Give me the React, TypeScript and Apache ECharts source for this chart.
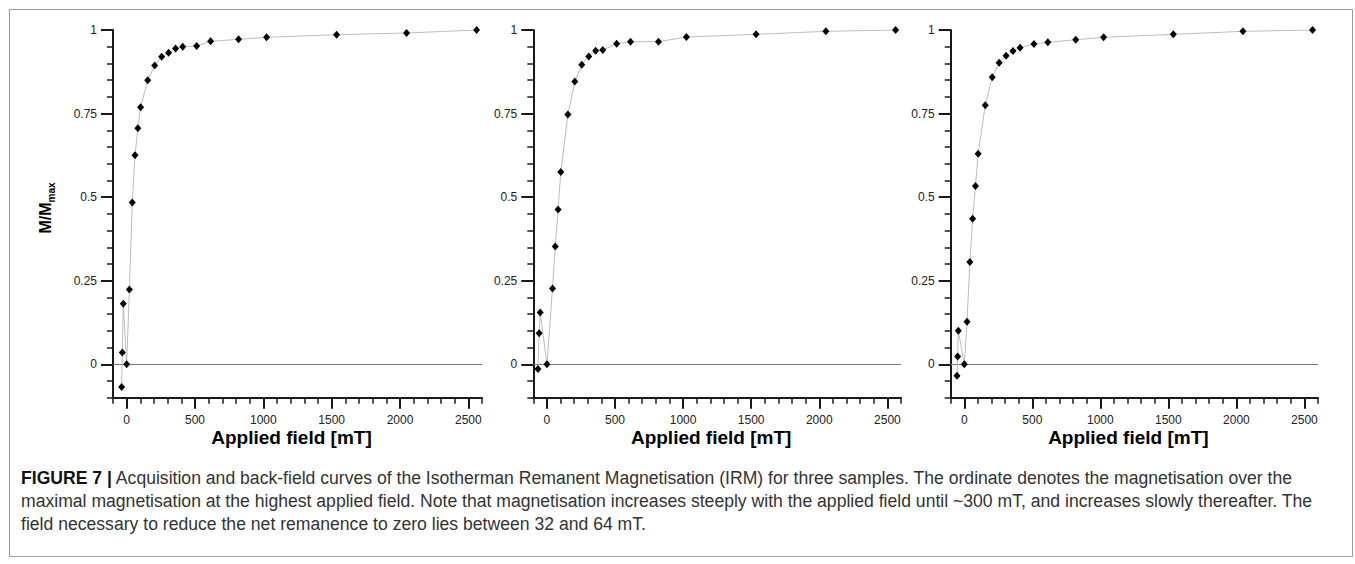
import React, { useEffect, useRef } from "react";
import * as echarts from "echarts";

// Applied field [mT] and M/Mmax for each of the three samples
const fieldA = [-37, -32, -25, 0, 20, 41, 61, 82, 102, 154, 205, 256, 307, 358, 410, 512, 614, 819, 1024, 1536, 2048, 2560];
const magA = [-0.068, 0.035, 0.181, 0, 0.224, 0.484, 0.625, 0.706, 0.769, 0.85, 0.894, 0.92, 0.932, 0.945, 0.95, 0.952, 0.966, 0.972, 0.978, 0.986, 0.991, 1.0];

const fieldB = [-66, -57, -49, 0, 41, 61, 82, 102, 154, 205, 256, 307, 358, 410, 512, 614, 819, 1024, 1536, 2048, 2560];
const magB = [-0.014, 0.093, 0.155, 0, 0.227, 0.352, 0.463, 0.575, 0.747, 0.846, 0.896, 0.921, 0.938, 0.94, 0.959, 0.965, 0.965, 0.979, 0.987, 0.996, 1.0];

const fieldC = [-54, -49, -44, 0, 20, 41, 61, 82, 102, 154, 205, 256, 307, 358, 410, 512, 614, 819, 1024, 1536, 2048, 2560];
const magC = [-0.034, 0.023, 0.1, 0, 0.127, 0.306, 0.435, 0.533, 0.63, 0.775, 0.859, 0.902, 0.923, 0.937, 0.947, 0.958, 0.963, 0.971, 0.978, 0.987, 0.996, 1.0];

const xMajorTicks = [0, 500, 1000, 1500, 2000, 2500];
const yMajorTicks = [0, 0.25, 0.5, 0.75, 1];

const xName = "Applied field [mT]";
const captionLines = [
  "{b|FIGURE 7 |} Acquisition and back-field curves of the Isotherman Remanent Magnetisation (IRM) for three samples. The ordinate denotes the magnetisation over the",
  "maximal magnetisation at the highest applied field. Note that magnetisation increases steeply with the applied field until ~300 mT, and increases slowly thereafter. The",
  "field necessary to reduce the net remanence to zero lies between 32 and 64 mT.",
];

const FONT = "'Liberation Sans', Arial, Helvetica, sans-serif";
const AXIS = "#1a1a1a";

export default function App() {
  const ref = useRef<HTMLDivElement>(null);

  useEffect(() => {
    if (!ref.current) return;
    const chart = echarts.init(ref.current, undefined, { renderer: "svg" });

    const panels = [
      { f: fieldA, m: magA },
      { f: fieldB, m: magB },
      { f: fieldC, m: magC },
    ];
    const grids = [
      { left: 113, top: 30, width: 369, height: 367.7 },
      { left: 533.3, top: 30, width: 367.7, height: 367.7 },
      { left: 950.7, top: 30, width: 367.3, height: 367.7 },
    ];

    const xAxes: any[] = [];
    const yAxes: any[] = [];
    const series: any[] = [];

    panels.forEach((p, i) => {
      xAxes.push({
        type: "value",
        gridIndex: i,
        position: "bottom",
        min: -100,
        max: 2600,
        axisLine: { show: true, onZero: false, lineStyle: { color: AXIS, width: 2 } },
        axisTick: { show: true, customValues: xMajorTicks, length: 11, lineStyle: { color: AXIS, width: 2 } },
        axisLabel: {
          customValues: xMajorTicks,
          margin: 16,
          fontSize: 12,
          color: "#222",
          fontFamily: FONT,
          formatter: (v: number) => String(v),
        },
        splitLine: { show: false },
        name: xName,
        nameLocation: "middle",
        nameGap: 30,
        nameMoveOverlap: false,
        nameTextStyle: { fontSize: 19, fontWeight: "bold", color: "#000", fontFamily: FONT, padding: [0, 12, 0, 0] },
      });
      xAxes.push({
        type: "value",
        gridIndex: i,
        position: "bottom",
        min: -100,
        max: 2600,
        interval: 100,
        axisLine: { show: false, onZero: false },
        axisTick: { show: true, length: 6, lineStyle: { color: AXIS, width: 1.5 } },
        axisLabel: { show: false },
        splitLine: { show: false },
      });
      yAxes.push({
        type: "value",
        gridIndex: i,
        position: "left",
        min: -0.1,
        max: 1,
        axisLine: { show: true, onZero: false, lineStyle: { color: AXIS, width: 2 } },
        axisTick: { show: true, customValues: yMajorTicks, length: 12, lineStyle: { color: AXIS, width: 2 } },
        axisLabel: {
          customValues: yMajorTicks,
          margin: 16,
          fontSize: 12,
          color: "#222",
          fontFamily: FONT,
          formatter: (v: number) => String(v),
        },
        splitLine: { show: false },
      });
      yAxes.push({
        type: "value",
        gridIndex: i,
        position: "left",
        min: -0.1,
        max: 1,
        interval: 0.05,
        axisLine: { show: false, onZero: false },
        axisTick: { show: true, length: 6, lineStyle: { color: AXIS, width: 1.5 } },
        axisLabel: { show: false },
        splitLine: { show: false },
      });
      series.push({
        type: "line",
        xAxisIndex: 2 * i,
        yAxisIndex: 2 * i,
        data: p.f.map((x, k) => [x, p.m[k]]),
        symbol: "diamond",
        symbolSize: [7, 8],
        showSymbol: true,
        itemStyle: { color: "#000" },
        lineStyle: { color: "#bdbdbd", width: 1 },
        z: 3,
        markLine: {
          silent: true,
          symbol: "none",
          label: { show: false },
          lineStyle: { color: "#7a7a7a", width: 1, type: "solid" },
          data: [{ yAxis: 0 }],
          z: 1,
        },
      });
    });

    const graphic: any[] = [
      {
        type: "rect",
        shape: { x: 9.5, y: 9.5, width: 1343, height: 547 },
        style: { fill: "none", stroke: "#9a9a9a", lineWidth: 1 },
        silent: true,
      },
      {
        type: "text",
        x: 45,
        y: 208,
        rotation: Math.PI / 2,
        style: {
          text: "{a|M/M}{b|max}",
          align: "center",
          verticalAlign: "middle",
          rich: {
            a: { fontSize: 16, fontWeight: "bold", fontFamily: FONT, fill: "#000", lineHeight: 22, verticalAlign: "middle" },
            b: { fontSize: 10, fontWeight: "bold", fontFamily: FONT, fill: "#000", lineHeight: 10, verticalAlign: "bottom" },
          },
        },
      },
    ];
    captionLines.forEach((t, k) => {
      graphic.push({
        type: "text",
        x: 21,
        y: 478 + k * 23,
        style: {
          text: t,
          fontSize: 17.6,
          fontFamily: FONT,
          fill: "#333",
          verticalAlign: "middle",
          rich: {
            b: { fontSize: 17.6, fontWeight: "bold", fontFamily: FONT, fill: "#111" },
          },
        },
      });
    });

    chart.setOption({
      animation: false,
      backgroundColor: "#fff",
      grid: grids,
      xAxis: xAxes,
      yAxis: yAxes,
      series,
      graphic,
    });

    return () => chart.dispose();
  }, []);

  return (
    <div
      ref={ref}
      style={{ position: "fixed", left: 0, top: 0, width: "1355px", height: "564px" }}
    />
  );
}
